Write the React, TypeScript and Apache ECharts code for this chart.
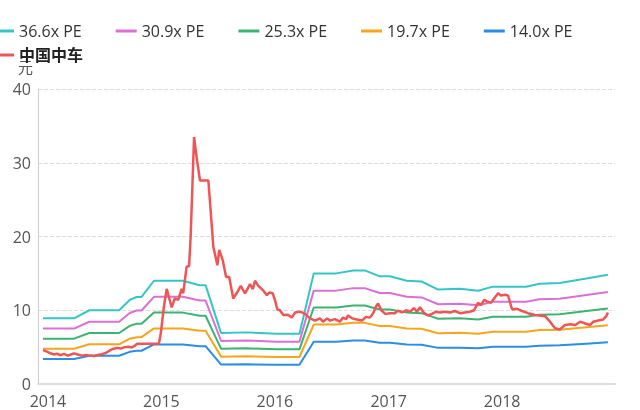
import React, { useEffect, useRef } from 'react';
import * as echarts from 'echarts';

const seriesNames = ['36.6x PE', '30.9x PE', '25.3x PE', '19.7x PE', '14.0x PE', '中国中车'];
const seriesColors = ['#36c5c7', '#da70d6', '#3cb371', '#f7a51d', '#2b8de3', '#ef5555'];

// PE band breakpoints (shared dates)
const bandDates = [
  '2013-12-16', '2014-03-26', '2014-05-14', '2014-08-18', '2014-09-21', '2014-10-13', '2014-10-29', '2014-12-08',
  '2015-03-11', '2015-05-04', '2015-05-23', '2015-07-12', '2015-10-01', '2016-01-06', '2016-03-20', '2016-05-05',
  '2016-07-16', '2016-09-09', '2016-10-16', '2016-12-03', '2017-01-05', '2017-02-28', '2017-04-17', '2017-06-09',
  '2017-08-18', '2017-10-16', '2017-12-02', '2018-03-19', '2018-05-01', '2018-07-05', '2018-09-29', '2018-12-07',
];
const pe366 = [8.9, 8.9, 10.0, 10.0, 11.4, 11.8, 11.8, 14.0, 14.0, 13.4, 13.4, 6.9, 7.0, 6.8, 6.8, 15.0, 15.0, 15.4, 15.4, 14.6, 14.6, 14.0, 13.9, 12.8, 12.9, 12.65, 13.2, 13.2, 13.6, 13.7, 14.3, 14.8];
const pe309 = [7.51, 7.51, 8.44, 8.44, 9.62, 9.96, 9.96, 11.82, 11.82, 11.31, 11.31, 5.83, 5.91, 5.74, 5.74, 12.66, 12.66, 13.0, 13.0, 12.33, 12.33, 11.82, 11.74, 10.81, 10.89, 10.68, 11.14, 11.14, 11.48, 11.57, 12.07, 12.49];
const pe253 = [6.15, 6.15, 6.91, 6.91, 7.88, 8.16, 8.16, 9.68, 9.68, 9.26, 9.26, 4.77, 4.84, 4.7, 4.7, 10.37, 10.37, 10.65, 10.65, 10.09, 10.09, 9.68, 9.61, 8.85, 8.92, 8.74, 9.12, 9.12, 9.4, 9.47, 9.89, 10.23];
const pe197 = [4.79, 4.79, 5.38, 5.38, 6.14, 6.35, 6.35, 7.54, 7.54, 7.21, 7.21, 3.71, 3.77, 3.66, 3.66, 8.07, 8.07, 8.29, 8.29, 7.86, 7.86, 7.54, 7.48, 6.89, 6.94, 6.81, 7.1, 7.1, 7.32, 7.37, 7.7, 7.97];
const pe140 = [3.4, 3.4, 3.83, 3.83, 4.36, 4.51, 4.51, 5.36, 5.36, 5.13, 5.13, 2.64, 2.68, 2.6, 2.6, 5.74, 5.74, 5.89, 5.89, 5.58, 5.58, 5.36, 5.32, 4.9, 4.93, 4.84, 5.05, 5.05, 5.2, 5.24, 5.47, 5.66];

// 中国中车 price
const priceDates = [
  '2013-12-16', '2013-12-29', '2014-01-07', '2014-01-20', '2014-01-30', '2014-02-11', '2014-02-21', '2014-03-06',
  '2014-03-16', '2014-03-25', '2014-04-07', '2014-04-20', '2014-05-03', '2014-05-16', '2014-05-29', '2014-06-10',
  '2014-06-23', '2014-07-06', '2014-07-19', '2014-07-29', '2014-08-11', '2014-08-23', '2014-09-05', '2014-09-18',
  '2014-09-28', '2014-10-08', '2014-10-14', '2014-11-02', '2014-11-25', '2014-12-14', '2014-12-24', '2014-12-30',
  '2015-01-09', '2015-01-18', '2015-01-25', '2015-02-03', '2015-02-13', '2015-02-24', '2015-03-07', '2015-03-12',
  '2015-03-23', '2015-03-31', '2015-04-05', '2015-04-16', '2015-04-25', '2015-05-05', '2015-06-01', '2015-06-17',
  '2015-06-30', '2015-07-06', '2015-07-17', '2015-07-28', '2015-08-07', '2015-08-20', '2015-08-31', '2015-09-13',
  '2015-09-27', '2015-10-13', '2015-10-22', '2015-10-29', '2015-11-09', '2015-11-25', '2015-12-06', '2015-12-14',
  '2015-12-25', '2016-01-01', '2016-01-09', '2016-01-17', '2016-01-28', '2016-02-12', '2016-02-24', '2016-03-06',
  '2016-03-22', '2016-04-07', '2016-04-23', '2016-05-09', '2016-05-25', '2016-06-04', '2016-06-17', '2016-06-26',
  '2016-07-12', '2016-07-28', '2016-08-07', '2016-08-17', '2016-08-23', '2016-09-05', '2016-09-21', '2016-10-07',
  '2016-10-20', '2016-11-02', '2016-11-12', '2016-11-21', '2016-11-28', '2016-12-08', '2016-12-21', '2017-01-05',
  '2017-01-21', '2017-01-31', '2017-02-13', '2017-02-26', '2017-03-11', '2017-03-23', '2017-04-02', '2017-04-12',
  '2017-04-25', '2017-05-08', '2017-05-20', '2017-06-02', '2017-06-15', '2017-07-01', '2017-07-17', '2017-08-02',
  '2017-08-18', '2017-09-03', '2017-09-19', '2017-10-03', '2017-10-15', '2017-10-25', '2017-11-04', '2017-11-13',
  '2017-11-26', '2017-12-06', '2017-12-19', '2017-12-28', '2018-01-10', '2018-01-20', '2018-02-02', '2018-02-18',
  '2018-03-06', '2018-03-25', '2018-04-17', '2018-05-19', '2018-06-04', '2018-06-20', '2018-07-06', '2018-07-22',
  '2018-08-08', '2018-08-24', '2018-09-09', '2018-09-25', '2018-10-11', '2018-10-21', '2018-11-06', '2018-11-22',
  '2018-12-02', '2018-12-07',
];
const priceValues = [
  4.6, 4.4, 4.2, 4.0, 4.1, 3.9, 4.1, 3.85,
  4.0, 4.15, 4.0, 3.85, 3.95, 3.85, 3.8, 3.95,
  4.05, 4.2, 4.55, 4.75, 4.9, 4.8, 5.0, 5.05,
  4.95, 5.2, 5.45, 5.45, 5.45, 5.45, 5.5, 6.9,
  10.5, 12.9, 11.8, 10.4, 11.6, 11.4, 12.9, 12.3,
  15.9, 16.0, 20.0, 33.5, 30.5, 27.6, 27.6, 18.6,
  16.1, 18.2, 16.8, 14.5, 14.5, 11.6, 12.3, 13.3,
  12.3, 13.55, 12.85, 14.0, 13.3, 12.65, 12.05, 12.4,
  12.3, 11.4, 10.1, 10.0, 9.35, 9.4, 9.0, 9.7,
  9.8, 9.5, 8.9, 8.6, 8.9, 8.45, 8.9, 8.6,
  8.8, 8.45, 9.0, 8.8, 9.3, 8.9, 8.75, 8.6,
  9.1, 9.0, 9.6, 10.5, 10.9, 10.0, 9.5, 9.6,
  9.6, 9.95, 9.7, 10.0, 9.8, 10.3, 9.8, 10.4,
  9.6, 9.3, 9.5, 9.8, 9.7, 9.8, 9.7, 9.9,
  9.6, 9.7, 9.8, 10.0, 11.0, 10.7, 11.4, 11.2,
  11.0, 11.6, 12.3, 12.0, 12.1, 12.0, 10.1, 10.2,
  9.9, 9.6, 9.35, 9.2, 8.45, 7.55, 7.4, 8.0,
  8.1, 8.0, 8.45, 8.2, 8.0, 8.45, 8.6, 8.75,
  9.2, 9.7,
];

const yTicks = { min: 0, max: 40, interval: 10 };
const xRange = { min: '2013-11-30', max: '2018-12-30' };

export default function App() {
  const ref = useRef<HTMLDivElement>(null);
  useEffect(() => {
    if (!ref.current) return;
    const chart = echarts.init(ref.current, null, { renderer: 'svg' });
    const zip = (d: string[], v: number[]) => d.map((x, i) => [x, v[i]]);
    const bands = [pe366, pe309, pe253, pe197, pe140];
    const series: any[] = bands.map((vals, i) => ({
      name: seriesNames[i],
      type: 'line',
      data: zip(bandDates, vals),
      symbol: 'none',
      showSymbol: false,
      lineStyle: { width: 2, color: seriesColors[i] },
      itemStyle: { color: seriesColors[i] },
    }));
    series.push({
      name: seriesNames[5],
      type: 'line',
      data: zip(priceDates, priceValues),
      symbol: 'none',
      showSymbol: false,
      lineStyle: { width: 2.5, color: seriesColors[5] },
      itemStyle: { color: seriesColors[5] },
      z: 3,
    });
    const fam = "'Open Sans', 'Noto Sans CJK SC', sans-serif";
    const legendBase = {
      left: -12,
      icon: 'rect',
      itemWidth: 21,
      itemHeight: 3,
      itemGap: 34,
      orient: 'horizontal',
    };
    chart.setOption({
      animation: false,
      color: seriesColors,
      textStyle: { fontFamily: fam },
      legend: [
        {
          ...legendBase,
          top: 18,
          textStyle: { fontSize: 16, color: '#333', fontFamily: fam },
          data: seriesNames.slice(0, 5),
        },
        {
          ...legendBase,
          top: 42,
          textStyle: { fontSize: 16, color: '#222', fontWeight: 'bold', fontFamily: fam },
          data: [seriesNames[5]],
        },
      ],
      grid: { left: 38, right: 25, top: 89, bottom: 26, containLabel: false },
      xAxis: {
        type: 'time',
        min: xRange.min,
        max: xRange.max,
        minInterval: 365 * 24 * 3600 * 1000,
        splitLine: { show: false },
        axisTick: { show: false },
        axisLine: { lineStyle: { color: '#ddd', width: 2 } },
        axisLabel: { formatter: '{yyyy}', fontSize: 16, color: '#555', margin: 9, fontFamily: fam },
      },
      yAxis: {
        type: 'value',
        min: yTicks.min,
        max: yTicks.max,
        interval: yTicks.interval,
        name: '元',
        nameGap: 15,
        nameTextStyle: { color: '#555', fontSize: 15, align: 'right', padding: [0, 5, 0, 0], fontFamily: fam },
        axisLine: { show: true, lineStyle: { color: '#ccc' } },
        axisTick: { show: false },
        axisLabel: { fontSize: 16, color: '#555', margin: 7, fontFamily: fam },
        splitLine: { lineStyle: { type: 'dashed', color: '#ddd' } },
      },
      series,
    });
    return () => chart.dispose();
  }, []);
  return <div ref={ref} style={{ position: 'fixed', left: 0, top: 0, width: 640, height: 410 }} />;
}
